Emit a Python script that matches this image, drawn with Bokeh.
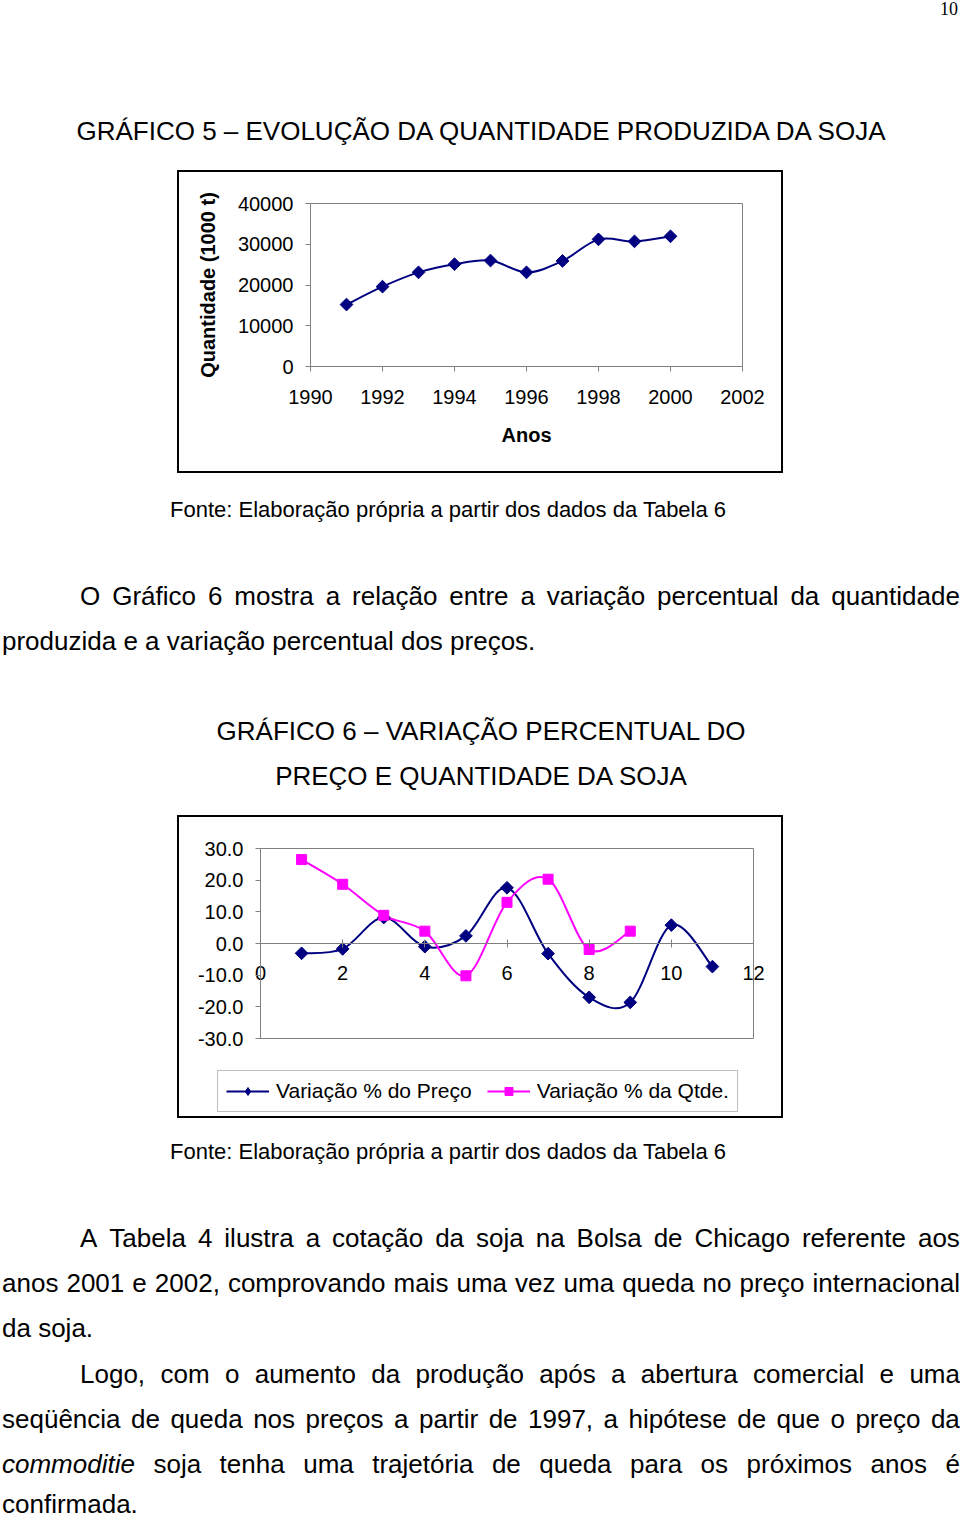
from bokeh.plotting import figure
from bokeh.models import (Div, Spacer, FixedTicker, NumeralTickFormatter, Legend,
                          LegendItem, Range1d, ColumnDataSource, BoxAnnotation)
from bokeh.layouts import column, row
from bokeh.embed import file_html
from bokeh.resources import INLINE
import math

# ---------------- data ----------------
anos = [1991, 1992, 1993, 1994, 1995, 1996, 1997, 1998, 1999, 2000]
quantidade = [15200, 19600, 23100, 25100, 26000, 23100, 25900, 31200, 30700, 31950]
x_ticks_1 = [1990, 1992, 1994, 1996, 1998, 2000, 2002]
y_ticks_1 = [0, 10000, 20000, 30000, 40000]

periodo_preco = [1, 2, 3, 4, 5, 6, 7, 8, 9, 10, 11]
var_preco = [-3.1, -1.7, 8.2, -1.0, 2.4, 17.6, -3.2, -17.0, -18.6, 5.8, -7.3]
periodo_qtde = [1, 2, 3, 4, 5, 6, 7, 8, 9]
var_qtde = [26.5, 18.7, 8.9, 3.9, -10.2, 13.0, 20.3, -1.9, 3.9]
x_ticks_2 = [0, 2, 4, 6, 8, 10, 12]
y_ticks_2 = [-30, -20, -10, 0, 10, 20, 30]

titulo_5 = "GRÁFICO 5 – EVOLUÇÃO DA QUANTIDADE PRODUZIDA DA SOJA"
titulo_6a = "GRÁFICO 6 – VARIAÇÃO PERCENTUAL DO"
titulo_6b = "PREÇO E QUANTIDADE DA SOJA"
fonte = "Fonte: Elaboração própria a partir dos dados da Tabela 6"
label_preco = "Variação % do Preço"
label_qtde = "Variação % da Qtde."

NAVY = "#000080"
MAGENTA = "#FF00FF"
GRAY = "#808080"
SANS = "Liberation Sans"
BOX = {"outline": "2px solid black"}


def smooth_segments(xs, ys):
    """Cubic Bezier segments through the data points (Excel-like smoothing)."""
    n = len(xs)
    d = dict(x0=[], y0=[], x1=[], y1=[], cx0=[], cy0=[], cx1=[], cy1=[])
    for i in range(n - 1):
        ip, inn = max(i - 1, 0), min(i + 2, n - 1)
        d["x0"].append(xs[i]); d["y0"].append(ys[i])
        d["x1"].append(xs[i + 1]); d["y1"].append(ys[i + 1])
        d["cx0"].append(xs[i] + (xs[i + 1] - xs[ip]) / 6.0)
        d["cy0"].append(ys[i] + (ys[i + 1] - ys[ip]) / 6.0)
        d["cx1"].append(xs[i + 1] - (xs[inn] - xs[i]) / 6.0)
        d["cy1"].append(ys[i + 1] - (ys[inn] - ys[i]) / 6.0)
    return ColumnDataSource(d)


def style_axis(ax):
    ax.axis_line_color = GRAY
    ax.major_tick_line_color = GRAY
    ax.minor_tick_line_color = None
    ax.major_label_text_font = SANS
    ax.major_label_text_font_size = "20px"
    ax.major_label_text_color = "black"


# ---------------- chart 1 ----------------
p1 = figure(width=602, height=299, x_range=Range1d(1990, 2002), y_range=Range1d(0, 40000),
            output_backend="svg", toolbar_location=None,
            min_border_left=131, min_border_right=39, min_border_top=31, min_border_bottom=105,
            margin=0, styles=BOX)
p1.xgrid.visible = False
p1.ygrid.visible = False
p1.outline_line_color = GRAY
style_axis(p1.xaxis[0])
style_axis(p1.yaxis[0])
p1.xaxis.ticker = FixedTicker(ticks=x_ticks_1)
p1.yaxis.ticker = FixedTicker(ticks=y_ticks_1)
p1.xaxis.formatter = NumeralTickFormatter(format="0")
p1.yaxis.formatter = NumeralTickFormatter(format="0")
p1.xaxis.major_tick_in = 0
p1.xaxis.major_tick_out = 5
p1.yaxis.major_tick_in = 0
p1.yaxis.major_tick_out = 5
p1.xaxis.major_label_standoff = 18
p1.yaxis.major_label_standoff = 12
p1.xaxis.axis_label = "Anos"
p1.yaxis.axis_label = "Quantidade (1000 t)"
for ax in (p1.xaxis, p1.yaxis):
    ax.axis_label_text_font = SANS
    ax.axis_label_text_font_size = "20px"
    ax.axis_label_text_font_style = "bold"
    ax.axis_label_text_color = "black"
p1.xaxis.axis_label_standoff = 17
p1.yaxis.axis_label_standoff = 16

p1.bezier(x0="x0", y0="y0", x1="x1", y1="y1", cx0="cx0", cy0="cy0", cx1="cx1", cy1="cy1",
          source=smooth_segments(anos, quantidade), line_color=NAVY, line_width=2)
p1.scatter(anos, quantidade, marker="square", angle=math.pi / 4, size=9,
           fill_color=NAVY, line_color=NAVY)

# ---------------- chart 2 ----------------
# The frame is larger than the 0..12 / -30..30 box so that the axes crossing at 0,
# their labels and the legend are drawn without clipping.
PX_X = 493.0 / (x_ticks_2[-1] - x_ticks_2[0])   # pixels per x unit
PX_Y = 190.0 / (y_ticks_2[-1] - y_ticks_2[0])   # pixels per y unit
x_range_2 = Range1d(x_ticks_2[0] - 75 / PX_X, x_ticks_2[-1] + 22 / PX_X)
y_range_2 = Range1d(y_ticks_2[0] - 77 / PX_Y, y_ticks_2[-1] + 13 / PX_Y)

p2 = figure(width=602, height=299, x_range=x_range_2, y_range=y_range_2,
            output_backend="svg", toolbar_location=None,
            min_border_left=6, min_border_right=6, min_border_top=18, min_border_bottom=1,
            margin=0, styles=BOX)
p2.xgrid.visible = False
p2.ygrid.visible = False
p2.outline_line_color = None
style_axis(p2.xaxis[0])
style_axis(p2.yaxis[0])

p2.add_layout(BoxAnnotation(left=x_ticks_2[0], right=x_ticks_2[-1],
                            bottom=y_ticks_2[0], top=y_ticks_2[-1],
                            fill_alpha=0, line_color=GRAY, line_alpha=1.0, line_width=1,
                            level="underlay"))

p2.xaxis.fixed_location = 0
p2.xaxis.bounds = (x_ticks_2[0], x_ticks_2[-1])
p2.xaxis.ticker = FixedTicker(ticks=x_ticks_2)
p2.xaxis.major_tick_in = 4
p2.xaxis.major_tick_out = 4
p2.xaxis.major_label_standoff = 18

p2.yaxis.fixed_location = 0
p2.yaxis.bounds = (y_ticks_2[0], y_ticks_2[-1])
p2.yaxis.ticker = FixedTicker(ticks=y_ticks_2)
p2.yaxis.formatter = NumeralTickFormatter(format="0.0")
p2.yaxis.major_tick_in = 0
p2.yaxis.major_tick_out = 5
p2.yaxis.major_label_standoff = 12

# legend-only renderers (hidden in the plot, drawn in the legend)
leg_preco_line = p2.line(periodo_preco, var_preco, line_color=NAVY, line_width=2, visible=False)
leg_preco_mark = p2.scatter(periodo_preco, var_preco, marker="diamond", size=12,
                            fill_color=NAVY, line_color=NAVY, visible=False)
leg_qtde_line = p2.line(periodo_qtde, var_qtde, line_color=MAGENTA, line_width=2, visible=False)

p2.bezier(x0="x0", y0="y0", x1="x1", y1="y1", cx0="cx0", cy0="cy0", cx1="cx1", cy1="cy1",
          source=smooth_segments(periodo_preco, var_preco), line_color=NAVY, line_width=2)
p2.bezier(x0="x0", y0="y0", x1="x1", y1="y1", cx0="cx0", cy0="cy0", cx1="cx1", cy1="cy1",
          source=smooth_segments(periodo_qtde, var_qtde), line_color=MAGENTA, line_width=2)
p2.scatter(periodo_preco, var_preco, marker="square", angle=math.pi / 4, size=9,
           fill_color=NAVY, line_color=NAVY)
qtde_pts = p2.scatter(periodo_qtde, var_qtde, marker="square", size=10,
                      fill_color=MAGENTA, line_color=MAGENTA)

legend = Legend(items=[LegendItem(label=label_preco, renderers=[leg_preco_line, leg_preco_mark]),
                       LegendItem(label=label_qtde, renderers=[leg_qtde_line, qtde_pts])],
                location=(32, 3), orientation="horizontal",
                border_line_color=GRAY, border_line_width=1,
                background_fill_color="white", background_fill_alpha=1.0,
                label_text_font=SANS, label_text_font_size="21px", label_text_color="black",
                glyph_width=43, glyph_height=20, label_height=20, label_standoff=7,
                spacing=15, padding=8, margin=0)
p2.add_layout(legend)

# ---------------- text blocks ----------------
BASE = f"font-family:'{SANS}',Arial,sans-serif;color:black;"


def abs_text(text, top, left=None, width=None, size=26, center=False, extra=""):
    s = f"position:absolute;top:{top}px;font-size:{size}px;line-height:{size}px;white-space:nowrap;"
    if left is not None:
        s += f"left:{left}px;"
    if width is not None:
        s += f"width:{width}px;"
    if center:
        s += "text-align:center;"
    return f'<div style="{s}{extra}">{text}</div>'


def just_line(words, top, left, right=960, size=26):
    spans = "".join(f"<span>{w}</span>" for w in words)
    s = (f"position:absolute;top:{top}px;left:{left}px;width:{right - left}px;"
         f"font-size:{size}px;line-height:{size}px;white-space:nowrap;"
         "display:flex;justify-content:space-between;")
    return f'<div style="{s}">{spans}</div>'


def block(inner, h):
    return Div(text=f'<div style="position:relative;width:960px;height:{h}px;{BASE}">{inner}</div>',
               width=960, height=h, margin=0)


top_div = block(
    abs_text("10", 0, width=958, size=18, extra="text-align:right;font-family:'Liberation Serif',serif;")
    + abs_text(titulo_5, 118, left=0, width=962, center=True), 172)

mid_div = block(
    abs_text(fonte, 26, left=170, size=22)
    + just_line("O Gráfico 6 mostra a relação entre a variação percentual da quantidade".split(), 110, 80)
    + abs_text("produzida e a variação percentual dos preços.", 155, left=2)
    + abs_text(titulo_6a, 245, left=0, width=962, center=True)
    + abs_text(titulo_6b, 290, left=0, width=962, center=True), 344)

commod = ['<i>commoditie</i>'] + "soja tenha uma trajetória de queda para os próximos anos é".split()
bot_div = block(
    abs_text(fonte, 23, left=170, size=22)
    + just_line("A Tabela 4 ilustra a cotação da soja na Bolsa de Chicago referente aos".split(), 107, 80)
    + just_line("anos 2001 e 2002, comprovando mais uma vez uma queda no preço internacional".split(), 152, 2)
    + abs_text("da soja.", 197, left=2)
    + just_line("Logo, com o aumento da produção após a abertura comercial e uma".split(), 243, 80)
    + just_line("seqüência de queda nos preços a partir de 1997, a hipótese de que o preço da".split(), 288, 2)
    + just_line(commod, 333, 2)
    + abs_text("confirmada.", 373, left=2), 400)

layout = column(
    top_div,
    row(Spacer(width=179, height=301, margin=0), p1, spacing=0, margin=0),
    mid_div,
    row(Spacer(width=179, height=301, margin=0), p2, spacing=0, margin=0),
    bot_div,
    spacing=0, margin=0,
)

with open("out.html", "w") as f:
    f.write(file_html(layout, INLINE, title="Gráficos 5 e 6"))
